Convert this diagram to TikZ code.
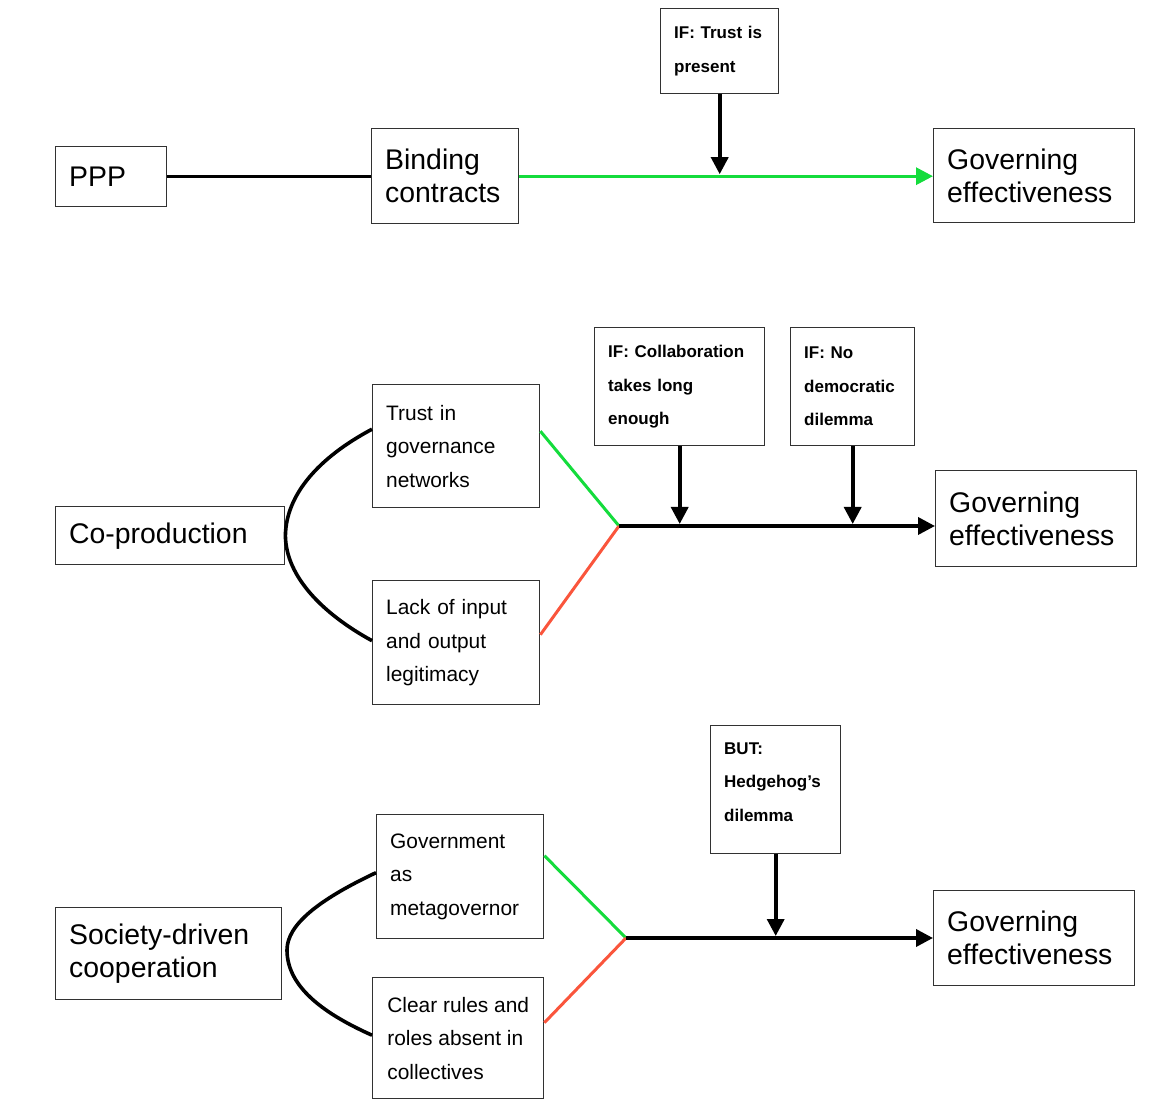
\documentclass[tikz,border=0pt]{standalone}
\usepackage{fontspec}
\setmainfont{Liberation Sans}
\usetikzlibrary{arrows.meta}
\definecolor{pgreen}{RGB}{20,220,60}
\definecolor{pred}{RGB}{250,85,60}
\definecolor{pborder}{RGB}{50,50,50}
\tikzset{
  box/.style={draw=pborder, line width=0.7pt, inner xsep=6.75pt, inner ysep=0pt, align=left, anchor=north west},
  big/.style={box, font=\fontsize{14.2}{16.5}\selectfont},
  mid/.style={box, font=\fontsize{10.45}{16.75}\selectfont},
  cond/.style={box, font=\fontsize{8.5}{16.75}\selectfont\bfseries},
  link/.style={line width=1.8pt, black},
  arr/.style={line width=1.8pt, black, -{Triangle[length=8.5pt,width=8.5pt]}},
  garr/.style={line width=1.6pt, pgreen, -{Triangle[length=8.5pt,width=8.5pt]}},
  gline/.style={line width=1.5pt, pgreen},
  rline/.style={line width=1.5pt, pred},
}
\begin{document}
\begin{tikzpicture}[x=0.5pt,y=-0.5pt]
\useasboundingbox (0,0) rectangle (1158,1112);
% Row 1
\node[big, minimum height=30pt, text width=42pt] (ppp) at (55,146) {PPP};
\node[big, minimum height=47.5pt, text width=60pt] (bind) at (371,128) {Binding\\contracts};
\node[cond, minimum height=42.5pt, text width=45.5pt] (if1) at (660,8) {IF: Trust is\\present};
\node[big, minimum height=47pt, text width=87pt] (gov1) at (933,128) {Governing\\effectiveness};
\coordinate (t1) at (if1.south |- bind.east);
\draw[link] (ppp.east) -- (ppp.east -| bind.west);
\draw[garr] (bind.east) -- (bind.east -| gov1.west);
\draw[arr] (if1.south) -- ([yshift=1pt]t1);
% Row 2
\node[big, minimum height=29pt, text width=101pt] (copro) at (55,506) {Co-production};
\node[mid, minimum height=61.5pt, text width=70pt] (trust) at (372,384) {Trust in\\governance\\networks};
\node[mid, minimum height=62pt, text width=70pt] (lack) at (372,580) {Lack of input\\and output\\legitimacy};
\node[cond, minimum height=59pt, text width=71.5pt] (ifc) at (594,327) {IF: Collaboration\\takes long\\enough};
\node[cond, minimum height=59pt, text width=48.5pt] (ifn) at (790,327) {IF: No\\democratic\\dilemma};
\node[big, minimum height=48pt, text width=87pt] (gov2) at (935,470) {Governing\\effectiveness};
\coordinate (j2) at (619,526);
\draw[gline] ([yshift=7.5pt]trust.east) -- (j2);
\draw[rline] ([yshift=4pt]lack.east) -- (j2);
\draw[arr] (j2) -- (j2 -| gov2.west);
\draw[arr] (ifc.south) -- ([yshift=1pt]ifc.south |- j2);
\draw[arr] (ifn.south) -- ([yshift=1pt]ifn.south |- j2);
\draw[link] ([yshift=8.5pt]trust.west) .. controls (318,458) and (286,495) .. (copro.east) .. controls (286,578) and (325,615) .. ([yshift=1pt]lack.west);
% Row 3
\node[big, minimum height=46pt, text width=99.5pt] (soc) at (55,907) {Society-driven\\cooperation};
\node[mid, minimum height=62pt, text width=70pt] (govas) at (376,814) {Government\\as\\metagovernor};
\node[mid, minimum height=60.5pt, minimum width=85.5pt, inner xsep=6pt] (clear) at (372,977) {Clear rules and\\roles absent in\\collectives};
\node[cond, minimum height=64pt, text width=51.5pt] (but) at (710,725) {BUT:\\Hedgehog's\\dilemma\\[-9pt]\mbox{}};
\node[big, minimum height=47.5pt, text width=87pt] (gov3) at (933,890) {Governing\\effectiveness};
\coordinate (j3) at (626,938);
\draw[gline] ([yshift=10.5pt]govas.east) -- (j3);
\draw[rline] ([yshift=7.75pt]clear.east) -- (j3);
\draw[arr] (j3) -- (j3 -| gov3.west);
\draw[arr] (but.south) -- ([yshift=1pt]but.south |- j3);
\draw[link] ([yshift=2pt]govas.west) .. controls (318,900) and (287,925) .. (287,950) .. controls (287,985) and (320,1012) .. ([yshift=1.5pt]clear.west);
\end{tikzpicture}
\end{document}
